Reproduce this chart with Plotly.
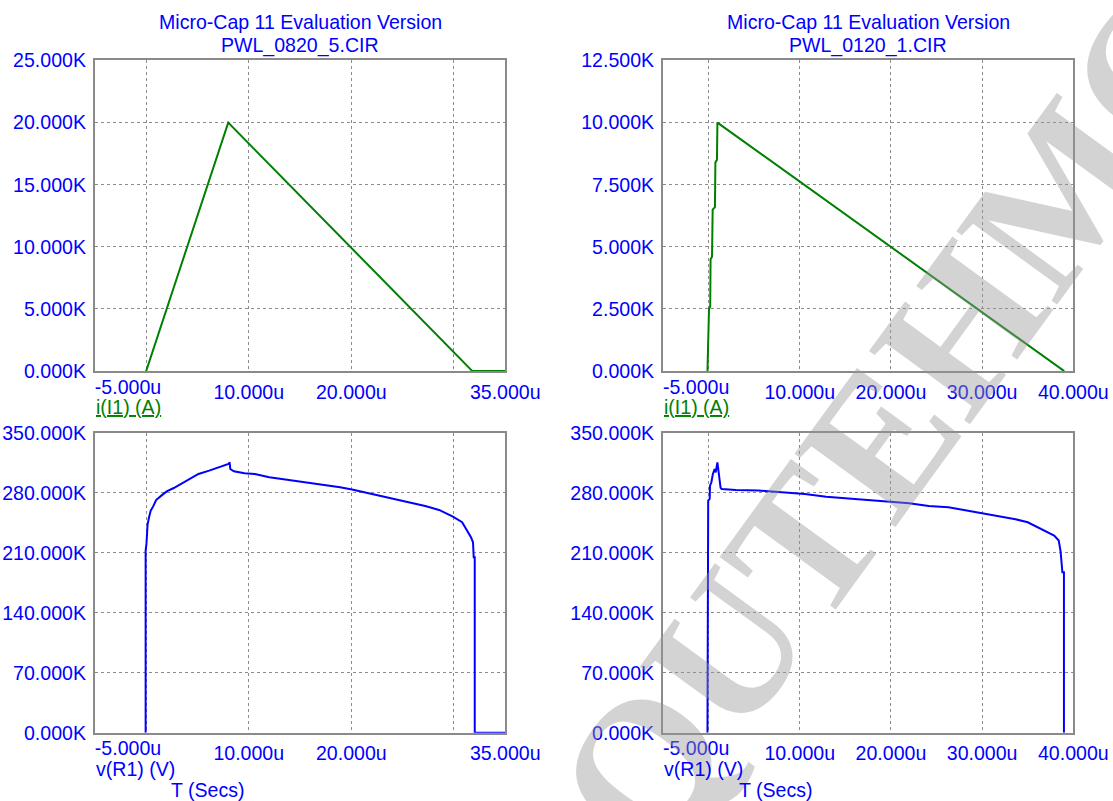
import plotly.graph_objects as go

# ---------------- data (time in microseconds, values in units) ----------------
# Left circuit PWL_0820_5.CIR
t_i_left = [0.0, 8.0, 31.8, 35.0]
i_left = [0, 20000, 0, 0]

t_v_left = [-0.05, -0.05, 0.03, 0.14, 0.28, 0.45, 0.72, 0.97, 1.48, 2.0, 2.69, 3.38,
            4.07, 5.1, 6.14, 7.17, 8.03, 8.14, 8.2, 8.55, 9.59, 10.6, 12.0, 13.4,
            15.1, 16.8, 18.9, 20.07, 21.66, 23.7, 25.4, 27.2, 28.55, 29.9, 30.8,
            31.3, 31.66, 31.86, 31.93, 32.03, 32.03, 35.0]
v_left = [0, 212700, 220500, 243000, 251600, 259400, 265200, 271800, 276900, 281900,
          285800, 290500, 295600, 302200, 306100, 310000, 313800, 315800, 308000,
          305300, 303000, 302200, 298300, 296000, 293200, 290500, 286700, 284000,
          279700, 273800, 269100, 264800, 260200, 252400, 245800, 236100, 228300,
          222400, 205000, 205000, 0, 0]

# Right circuit PWL_0120_1.CIR
t_i_right = [-0.12, -0.08, 0.0, 0.05, 0.18, 0.22, 0.38, 0.45, 0.70, 0.75, 0.92, 0.97, 39.0]
i_right = [0, 600, 700, 2500, 2600, 4500, 4600, 6500, 6600, 8400, 8500, 10000, 0]

t_v_right = [-0.12, -0.08, -0.04, 0.12, 0.16, 0.31, 0.47, 0.66, 0.78, 0.97, 1.13, 1.32,
             1.44, 2.99, 5.51, 8.04, 10.56, 12.9, 15.2, 17.35, 19.7, 22.0, 24.15, 26.3,
             28.0, 30.2, 31.9, 33.66, 35.0, 36.0, 37.15, 37.9, 38.4, 38.6, 38.8, 38.97,
             38.97]
v_right = [0, 220000, 271000, 273000, 288600, 292500, 302000, 308000, 304000, 315800,
           300000, 286000, 284700, 283500, 282800, 280800, 278800, 275700, 273800,
           271800, 270300, 268000, 264900, 263300, 260200, 256300, 252400, 249300,
           245800, 240700, 234100, 230200, 224400, 212000, 187400, 187400, 0]

# ---------------- axes / labels ----------------
x_range_left = [-5, 35]
x_range_right = [-5, 40]
x_grid_left = [0, 10, 20, 30]
x_grid_right = [0, 10, 20, 30]
x_ticks_left = [10, 20, 35]
x_ticktext_left = ["10.000u", "20.000u", "35.000u"]
x_ticks_right = [10, 20, 30, 40]
x_ticktext_right = ["10.000u", "20.000u", "30.000u", "40.000u"]
x_first_tick = [-5]
x_first_text = ["-5.000u"]

y_ticks_i_left = [0, 5000, 10000, 15000, 20000, 25000]
y_text_i_left = ["0.000K", "5.000K", "10.000K", "15.000K", "20.000K", "25.000K"]
y_ticks_i_right = [0, 2500, 5000, 7500, 10000, 12500]
y_text_i_right = ["0.000K", "2.500K", "5.000K", "7.500K", "10.000K", "12.500K"]
y_ticks_v = [0, 70000, 140000, 210000, 280000, 350000]
y_text_v = ["0.000K", "70.000K", "140.000K", "210.000K", "280.000K", "350.000K"]

titles_left = ["Micro-Cap 11 Evaluation Version", "PWL_0820_5.CIR"]
titles_right = ["Micro-Cap 11 Evaluation Version", "PWL_0120_1.CIR"]
watermark = "QUTEHMC"

# ---------------- geometry (target pixel positions, corrected for page scaling) ----------------
SX = 0.971     # observed horizontal scale between page pixels and the photo
SY = 0.974     # observed vertical scale
OY = 9.5       # observed vertical offset of the page in the photo
W = 1147
H = 813
BLUE = "#0000ff"
GREEN = "#008000"
GRID = "#8c8c8c"
BORDER = "#8a8a8a"
FONT = "Liberation Sans, Arial, sans-serif"
FS = 19 / SX


def fx(p):
    return (p / SX) / W


def fy(p):
    return 1 - ((p - OY) / SY) / H


dom_x_left = [fx(95), fx(506)]
dom_x_right = [fx(664), fx(1075)]
dom_y_top = [fy(370), fy(59)]
dom_y_bot = [fy(732), fy(432)]

fig = go.Figure()

fig.add_trace(go.Scatter(x=t_i_left, y=i_left, mode="lines", line=dict(color=GREEN, width=2),
                         xaxis="x", yaxis="y", showlegend=False))
fig.add_trace(go.Scatter(x=t_i_right, y=i_right, mode="lines", line=dict(color=GREEN, width=2),
                         xaxis="x2", yaxis="y2", showlegend=False))
fig.add_trace(go.Scatter(x=t_v_left, y=v_left, mode="lines", line=dict(color=BLUE, width=2),
                         xaxis="x3", yaxis="y3", showlegend=False))
fig.add_trace(go.Scatter(x=t_v_right, y=v_right, mode="lines", line=dict(color=BLUE, width=2),
                         xaxis="x4", yaxis="y4", showlegend=False))
# empty carrier traces so the overlay axes (first tick label) get drawn
for xa, ya in (("x5", "y"), ("x6", "y2"), ("x7", "y3"), ("x8", "y4")):
    fig.add_trace(go.Scatter(x=[None], y=[None], mode="lines", xaxis=xa, yaxis=ya,
                             showlegend=False, hoverinfo="skip"))

tickfont = dict(family=FONT, size=FS, color=BLUE)


def xaxis_main(dom, rng, grid, tv, tt, anchor):
    return dict(domain=dom, range=rng, anchor=anchor, tickmode="array", tickvals=tv, ticktext=tt,
                showgrid=True, gridcolor=GRID, griddash="dot", gridwidth=1,
                minor=dict(tickmode="array", tickvals=grid, showgrid=True, gridcolor=GRID,
                           griddash="dot", gridwidth=1),
                showline=True, linecolor=BORDER, linewidth=2, mirror=True,
                ticks="", ticklabelstandoff=2, tickfont=tickfont, zeroline=False, fixedrange=True)


def xaxis_first(overlay, anchor, rng):
    return dict(overlaying=overlay, anchor=anchor, range=rng, tickmode="array", side="bottom",
                tickvals=x_first_tick, ticktext=x_first_text, ticklabelposition="outside right",
                showgrid=False, showline=False, zeroline=False, ticks="", ticklabelstandoff=2,
                tickfont=tickfont, fixedrange=True)


def yaxis_main(dom, rng, tv, tt, anchor):
    return dict(domain=dom, range=rng, anchor=anchor, tickmode="array", tickvals=tv, ticktext=tt,
                showgrid=True, gridcolor=GRID, griddash="dot", gridwidth=1,
                showline=True, linecolor=BORDER, linewidth=2, mirror=True,
                ticks="", ticklabelstandoff=3, tickfont=tickfont, zeroline=False, fixedrange=True)


fig.update_layout(
    width=W, height=H, autosize=False,
    margin=dict(l=0, r=0, t=0, b=0),
    paper_bgcolor="white", plot_bgcolor="white",
    showlegend=False,
    xaxis=xaxis_main(dom_x_left, x_range_left, x_grid_left, x_ticks_left, x_ticktext_left, "y"),
    yaxis=yaxis_main(dom_y_top, [0, 25000], y_ticks_i_left, y_text_i_left, "x"),
    xaxis2=xaxis_main(dom_x_right, x_range_right, x_grid_right, x_ticks_right, x_ticktext_right, "y2"),
    yaxis2=yaxis_main(dom_y_top, [0, 12500], y_ticks_i_right, y_text_i_right, "x2"),
    xaxis3=xaxis_main(dom_x_left, x_range_left, x_grid_left, x_ticks_left, x_ticktext_left, "y3"),
    yaxis3=yaxis_main(dom_y_bot, [0, 350000], y_ticks_v, y_text_v, "x3"),
    xaxis4=xaxis_main(dom_x_right, x_range_right, x_grid_right, x_ticks_right, x_ticktext_right, "y4"),
    yaxis4=yaxis_main(dom_y_bot, [0, 350000], y_ticks_v, y_text_v, "x4"),
    xaxis5=xaxis_first("x", "y", x_range_left),
    xaxis6=xaxis_first("x2", "y2", x_range_right),
    xaxis7=xaxis_first("x3", "y3", x_range_left),
    xaxis8=xaxis_first("x4", "y4", x_range_right),
)

annots = []
# watermark (semi-transparent so the traces stay visible)
annots.append(dict(text="<b>" + watermark + "</b>", x=fx(895), y=fy(418),
                   xref="paper", yref="paper", xanchor="center", yanchor="middle",
                   showarrow=False, textangle=-54,
                   font=dict(family="Liberation Serif, DejaVu Serif, serif", size=185 / SX,
                             color="rgba(150,150,150,0.42)")))

for dom_x, titles, t_center in ((dom_x_left, titles_left, 208), (dom_x_right, titles_right, 777)):
    cx = (dom_x[0] + dom_x[1]) / 2
    annots.append(dict(text=titles[0], x=cx, y=fy(21), xref="paper", yref="paper",
                       showarrow=False, xanchor="center", yanchor="middle",
                       font=dict(family=FONT, size=FS, color=BLUE)))
    annots.append(dict(text=titles[1], x=cx, y=fy(44), xref="paper", yref="paper",
                       showarrow=False, xanchor="center", yanchor="middle",
                       font=dict(family=FONT, size=FS, color=BLUE)))
    annots.append(dict(text='<span style="text-decoration:underline">i(I1) (A)</span>',
                       x=dom_x[0], y=fy(406), xref="paper", yref="paper",
                       showarrow=False, xanchor="left", yanchor="middle", xshift=-1,
                       font=dict(family=FONT, size=FS, color=GREEN)))
    annots.append(dict(text="v(R1) (V)", x=dom_x[0], y=fy(768), xref="paper", yref="paper",
                       showarrow=False, xanchor="left", yanchor="middle", xshift=-1,
                       font=dict(family=FONT, size=FS, color=BLUE)))
    annots.append(dict(text="T (Secs)", x=fx(t_center), y=fy(789), xref="paper", yref="paper",
                       showarrow=False, xanchor="center", yanchor="middle",
                       font=dict(family=FONT, size=FS, color=BLUE)))

fig.update_layout(annotations=annots)

fig.write_html("out.html", config={"displayModeBar": False},
               post_script="document.body.style.margin='0px';document.body.style.overflow='hidden';")
